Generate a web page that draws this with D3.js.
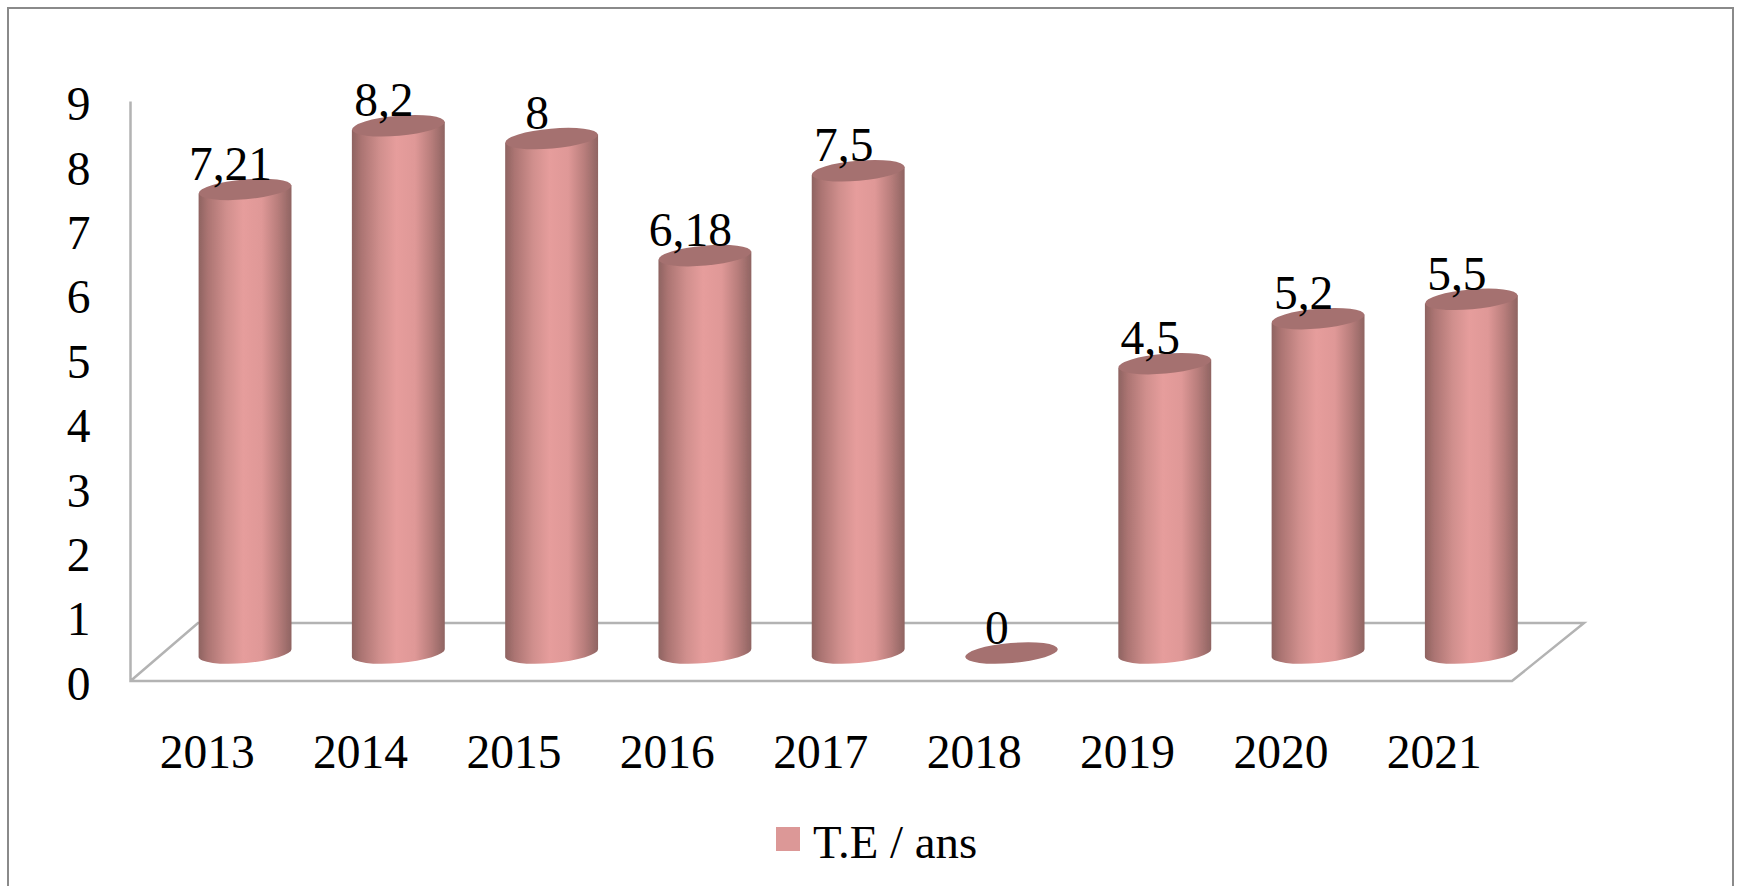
<!DOCTYPE html>
<html>
<head>
<meta charset="utf-8">
<script src="https://cdnjs.cloudflare.com/ajax/libs/d3/7.8.5/d3.min.js"></script>
<style>
html,body{margin:0;padding:0;background:#fff;overflow:hidden}
svg{display:block}
text{font-family:"Liberation Serif",serif;fill:#000}
</style>
</head>
<body>
<script>
const years = ["2013","2014","2015","2016","2017","2018","2019","2020","2021"];
const seriesName = "T.E / ans";
const values = [7.21, 8.2, 8, 6.18, 7.5, 0, 4.5, 5.2, 5.5];
const valueLabels = ["7,21","8,2","8","6,18","7,5","0","4,5","5,2","5,5"];
const yTicks = [0,1,2,3,4,5,6,7,8,9];

const W = 1740, H = 886;
const svg = d3.select("body").append("svg").attr("width", W).attr("height", H);
const defs = svg.append("defs");

const grad = defs.append("linearGradient").attr("id","cyl").attr("x1","0").attr("x2","1").attr("y1","0").attr("y2","0");
[[0,"#8e6361"],[0.1,"#ab7472"],[0.3,"#d08f8d"],[0.48,"#e69d9c"],[0.68,"#df9897"],[0.85,"#b97e7c"],[1,"#8f6462"]]
  .forEach(([o,c]) => grad.append("stop").attr("offset",o).attr("stop-color",c));
defs.append("filter").attr("id","soft").attr("x","-5%").attr("y","-5%").attr("width","110%").attr("height","110%")
  .append("feGaussianBlur").attr("stdDeviation",0.7);

// frame
svg.append("rect").attr("x",8).attr("y",8).attr("width",1725).attr("height",H+20)
  .attr("fill","#fff").attr("stroke","#8a8a8a").attr("stroke-width",2);

// scales
const x = d3.scaleBand().domain(years).range([168.4,1548]);       // back plane (cylinders)
const xFront = d3.scaleBand().domain(years).range([130.5,1511]);  // front plane (axis labels)
const y = d3.scaleLinear().domain([0,9]).range([653,74.3]);       // cylinder heights
const yFront = d3.scaleLinear().domain([0,9]).range([681,101.4]); // axis

// floor and walls
const wall = svg.append("g").attr("fill","none").attr("stroke","#b3b3b3").attr("stroke-width",2.5).attr("filter","url(#soft)");
wall.append("path").attr("d", d3.line()([[130.5,yFront(9)],[130.5,yFront(0)],[1512,yFront(0)],[1584,623],[198,623],[130.5,yFront(0)]]));

// axes
const gy = svg.append("g").attr("transform","translate(90.5,3)")
  .call(d3.axisLeft(yFront).tickValues(yTicks).tickSize(0).tickPadding(0));
gy.select(".domain").remove();
gy.selectAll("text").attr("font-size",47.5).style("font-family",'"Liberation Serif",serif').attr("fill","#000").attr("text-anchor","end");

const gx = svg.append("g").attr("transform","translate(0,734.5)")
  .call(d3.axisBottom(xFront).tickSize(0).tickPadding(0));
gx.select(".domain").remove();
gx.selectAll("text").attr("font-size",47.5).style("font-family",'"Liberation Serif",serif').attr("fill","#000").attr("dy","0.71em");

// cylinders
const rx = x.bandwidth()*0.303, ry = 10, tilt = -5;
const dy = rx*Math.sin(-tilt*Math.PI/180);
const cx = d => x(d.year)+x.bandwidth()/2;
const data = years.map((year,i)=>({year,value:values[i],label:valueLabels[i]}));
const bars = svg.append("g").selectAll("g").data(data).join("g").attr("filter","url(#soft)");
bars.filter(d=>d.value>0).append("path")
  .attr("fill","url(#cyl)")
  .attr("d", d=>{
    const c=cx(d), b=y(0), t=y(d.value);
    return `M${c-rx},${t+dy} L${c-rx},${b+dy} A${rx},${ry} ${tilt} 0 0 ${c+rx},${b-dy} L${c+rx},${t-dy} Z`;
  });
bars.append("ellipse")
  .attr("rx",rx).attr("ry",ry).attr("fill","#a57170")
  .attr("transform",d=>`translate(${cx(d)},${y(d.value)}) rotate(${tilt})`);

// value labels
svg.append("g").selectAll("text").data(data).join("text")
  .attr("x",d=>cx(d)-14.5).attr("y",d=>y(d.value)-9.5)
  .attr("text-anchor","middle").attr("font-size",47.5).text(d=>d.label);

// legend
svg.append("rect").attr("x",776).attr("y",827).attr("width",24).attr("height",24).attr("fill","#dc9897");
svg.append("text").attr("x",813).attr("y",858).attr("font-size",46.8).text(seriesName);
</script>
</body>
</html>
